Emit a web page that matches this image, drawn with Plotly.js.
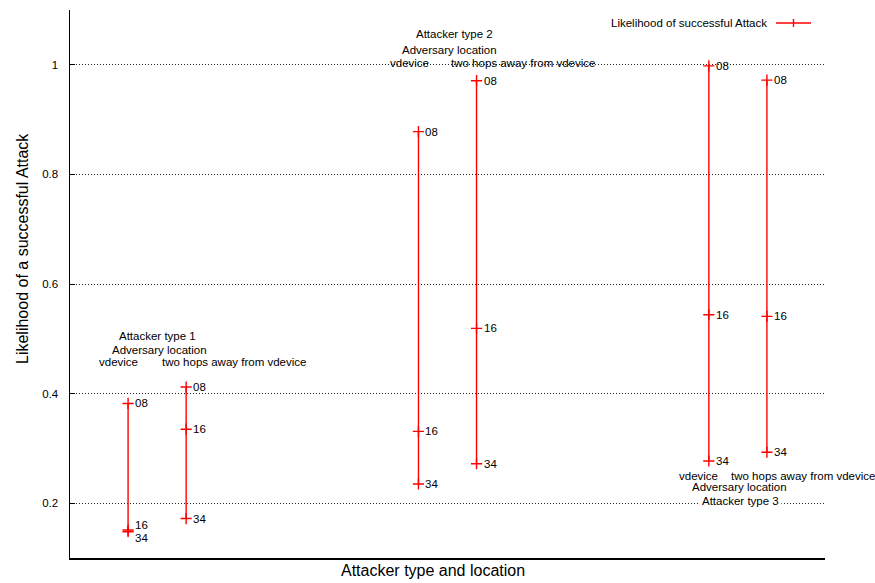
<!DOCTYPE html>
<html>
<head>
<meta charset="utf-8">
<script src="https://cdn.plot.ly/plotly-3.0.1.min.js"></script>
<style>html,body{margin:0;padding:0;background:#fff;}#chart{width:875px;height:583px;}</style>
</head>
<body>
<div id="chart"></div>
<script>
// ---- data ----
var xPositions = [1, 2, 6, 7, 11, 12];
var pointNames = ["08", "16", "34"];
var values08 = [0.382, 0.412, 0.878, 0.971, 0.998, 0.972];
var values16 = [0.151, 0.335, 0.331, 0.519, 0.544, 0.541];
var values34 = [0.148, 0.172, 0.235, 0.272, 0.277, 0.293];
var yTickVals = [0.2, 0.4, 0.6, 0.8, 1];
var yTickText = ["0.2", "0.4", "0.6", "0.8", "1"];
var legendLabel = "Likelihood of successful Attack";
var xTitle = "Attacker type and location";
var yTitle = "Likelihood of a successful Attack";
var groupTitles = ["Attacker type 1", "Attacker type 2", "Attacker type 3"];
var locationTitle = "Adversary location";
var locationNames = ["vdevice", "two hops away from vdevice"];

// ---- build ----
var FONT = "Liberation Sans, Arial, sans-serif";
var FS = 11.5;
var RED = "rgb(255,0,0)";
var series = [values08, values16, values34];
var traces = [];
var annotations = [];

xPositions.forEach(function (x, i) {
  var ys = series.map(function (s) { return s[i]; });
  traces.push({
    type: "scatter", mode: "lines+markers",
    x: [x, x, x], y: ys,
    line: {color: RED, width: 1.4},
    marker: {symbol: "cross-thin-open", size: 8, line: {color: RED, width: 1.4}, color: RED},
    showlegend: false, hoverinfo: "x+y"
  });
  ys.forEach(function (y, k) {
    var shift = 0;
    // separate labels of nearly coincident points
    ys.forEach(function (o, m) {
      if (m !== k && Math.abs(o - y) < 0.01) { shift = y > o ? 5 : -6; }
    });
    annotations.push({
      x: x, y: y, xref: "x", yref: "y", text: pointNames[k],
      showarrow: false, xanchor: "left", yanchor: "middle", xshift: 5, yshift: shift,
      font: {family: FONT, size: FS, color: "#000"}
    });
  });
});

function lab(text, x, y, bg) {
  var a = {x: x, y: y, xref: "x", yref: "y", text: text, showarrow: false,
    xanchor: "center", yanchor: "middle", font: {family: FONT, size: FS, color: "#000"}};
  if (bg) { a.bgcolor = "#fff"; a.borderpad = 2; }
  annotations.push(a);
}
// group 1
lab(groupTitles[0], 1.515, 0.506);
lab(locationTitle, 1.542, 0.479);
lab(locationNames[0], 0.835, 0.457);
lab(locationNames[1], 2.823, 0.457);
// group 2
lab(groupTitles[1], 6.627, 1.056);
lab(locationTitle, 6.540, 1.027);
lab(locationNames[0], 5.843, 1.004);
lab(locationNames[1], 7.797, 1.004);
// group 3
lab(groupTitles[2], 11.549, 0.204, true);
lab(locationNames[0], 10.826, 0.250);
lab(locationNames[1], 12.616, 0.250);
lab(locationTitle, 11.532, 0.229);

// axis titles
annotations.push({x: -48/755, y: (558-249)/548, xref: "paper", yref: "paper",
  text: yTitle, textangle: -90, showarrow: false, xanchor: "center", yanchor: "middle",
  font: {family: FONT, size: 16, color: "#000"}});
annotations.push({x: (433-70)/755, y: -(570-558)/548, xref: "paper", yref: "paper",
  text: xTitle, showarrow: false, xanchor: "center", yanchor: "middle",
  font: {family: FONT, size: 16, color: "#000"}});
// legend text
annotations.push({x: (769-70)/755, y: (558-23)/548, xref: "paper", yref: "paper",
  text: legendLabel, showarrow: false, xanchor: "right", yanchor: "middle",
  font: {family: FONT, size: FS, color: "#000"}});

var px = function (v) { return (v - 70) / 755; };
var py = function (v) { return (558 - v) / 548; };
var shapes = [
  {type: "line", xref: "paper", yref: "paper", x0: px(776), x1: px(811), y0: py(23), y1: py(23), line: {color: RED, width: 1.4}},
  {type: "line", xref: "paper", yref: "paper", x0: px(793.5), x1: px(793.5), y0: py(19), y1: py(27), line: {color: RED, width: 1.4}}
];

var layout = {
  width: 875, height: 583,
  margin: {l: 70, r: 50, t: 10, b: 25},
  paper_bgcolor: "#fff", plot_bgcolor: "#fff",
  font: {family: FONT, size: FS, color: "#000"},
  showlegend: false,
  xaxis: {range: [0, 13], showline: true, linecolor: "#000", linewidth: 1.5,
    showticklabels: false, ticks: "", showgrid: false, zeroline: false, fixedrange: true},
  yaxis: {range: [0.1, 1.1], showline: true, linecolor: "#000", linewidth: 1.5,
    tickvals: yTickVals, ticktext: yTickText, ticks: "inside", ticklen: 5, tickcolor: "#000",
    tickfont: {family: FONT, size: FS, color: "#000"}, ticklabelstandoff: 8,
    showgrid: true, gridcolor: "#222", gridwidth: 1, griddash: "1px,2px", zeroline: false, fixedrange: true},
  annotations: annotations,
  shapes: shapes
};

Plotly.newPlot("chart", traces, layout, {displayModeBar: false, staticPlot: true});
</script>
</body>
</html>
